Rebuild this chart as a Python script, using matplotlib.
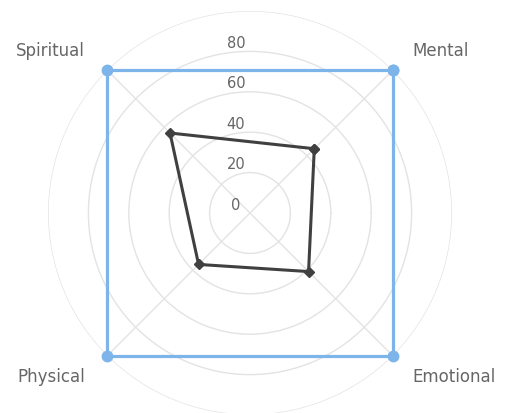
import numpy as np
import matplotlib
matplotlib.use("Agg")
import matplotlib.pyplot as plt

categories = ["Mental", "Spiritual", "Physical", "Emotional"]
angles_deg = [45, 135, 225, 315]
target = [100, 100, 100, 100]
actual = [45, 56, 36, 41]
rticks = [0, 20, 40, 60, 80]

BLUE = "#7db4ea"
DARK = "#404040"
GRID = "#e3e3e3"
TEXT = "#666666"

fig = plt.figure(figsize=(5.06, 4.13), dpi=100)
W, H = 506, 413
cx, cy, R = 250, 413 - 213, 202
ax = fig.add_axes([(cx - R) / W, (cy - R) / H, 2 * R / W, 2 * R / H], polar=True)

theta = np.deg2rad(angles_deg)
theta_c = np.append(theta, theta[0])

ax.set_ylim(0, 100)
ax.set_yticks([0, 20, 40, 60, 80, 100])
ax.set_yticklabels([])
ax.set_xticks(theta)
ax.set_xticklabels([])
ax.grid(True, color=GRID, linewidth=1)
ax.spines["polar"].set_visible(False)
ax.tick_params(length=0)

ax.plot(theta_c, np.append(target, target[0]), color=BLUE, linewidth=2.3,
        marker="o", markersize=7.5, zorder=3, clip_on=False)
ax.plot(theta_c, np.append(actual, actual[0]), color=DARK, linewidth=2.2,
        marker="D", markersize=5, zorder=4)

for v in rticks:
    ax.annotate(str(v), xy=(np.pi / 2, v), xytext=(-14, 8), textcoords="offset pixels",
                ha="center", va="center", fontsize=10.5, color=TEXT)

offsets = {
    "Mental": (20, 19, "left"),
    "Spiritual": (-22, 19, "right"),
    "Physical": (-22, -21, "right"),
    "Emotional": (20, -21, "left"),
}
for name, th in zip(categories, theta):
    dx, dy, ha = offsets[name]
    ax.annotate(name, xy=(th, 100), xytext=(dx, dy), textcoords="offset pixels",
                ha=ha, va="center", fontsize=12, color=TEXT, annotation_clip=False)

fig.savefig("out.png", dpi=100)
